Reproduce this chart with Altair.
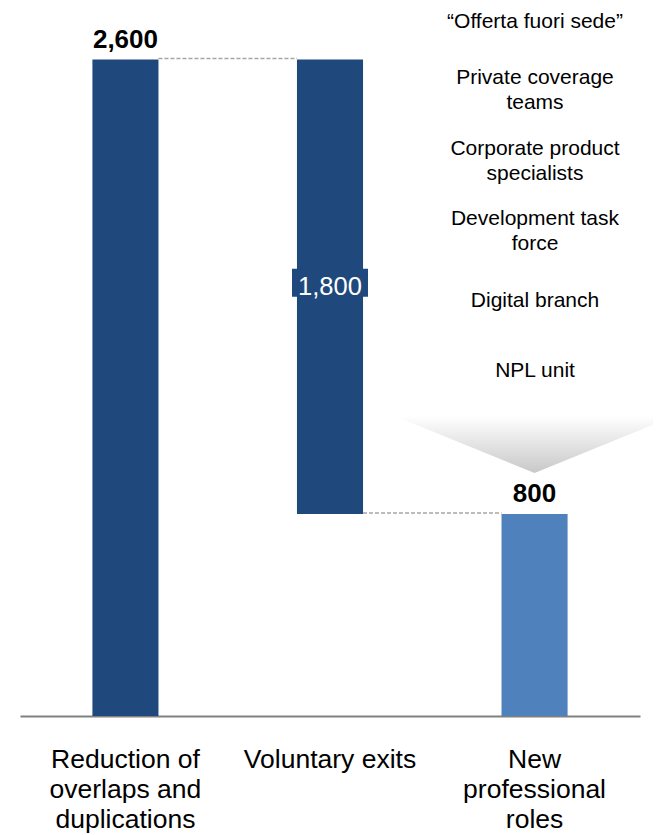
import altair as alt
import pandas as pd

# ---------------- data ----------------
categories = ["Reduction of overlaps and duplications", "Voluntary exits", "New professional roles"]
category_lines = ["Reduction of\noverlaps and\nduplications", "Voluntary exits", "New\nprofessional\nroles"]
kinds = ["total", "delta", "total"]
amounts = [2600, -1800, 800]
bar_colors = ["#1F497D", "#1F497D", "#4F81BD"]

new_roles = [
    "\u201cOfferta fuori sede\u201d",
    "Private coverage\nteams",
    "Corporate product\nspecialists",
    "Development task\nforce",
    "Digital branch",
    "NPL unit",
]

# ---------------- build waterfall table ----------------
rows = []
running = 0
for cat, kind, amt, col in zip(categories, kinds, amounts, bar_colors):
    if kind == "total":
        start, end = 0, amt
        running = amt
    else:
        start, end = running + amt, running
        running = running + amt
    rows.append(dict(cat=cat, kind=kind, start=start, end=end,
                     mid=(start + end) / 2, label=f"{abs(amt):,}", color=col))
bars = pd.DataFrame(rows)

conn = pd.DataFrame([
    dict(frm=categories[0], to=categories[1], level=bars.loc[0, "end"]),
    dict(frm=categories[1], to=categories[2], level=bars.loc[1, "start"]),
])
cat_df = pd.DataFrame(dict(cat=categories, text=category_lines))
tri_df = pd.DataFrame(dict(cat=[categories[2]]))

FONT = "Liberation Sans"
W, H = 620, 686
ymax = 2717

x_enc = alt.X("cat:N", sort=categories,
              scale=alt.Scale(domain=categories, paddingInner=0.677, paddingOuter=0.354),
              axis=alt.Axis(title=None, labels=False, ticks=False, domain=True,
                            domainColor="#808080", domainWidth=2, grid=False))
y_scale = alt.Scale(domain=[0, ymax], nice=False, zero=True)

base = alt.Chart(bars)

bar_layer = base.mark_bar().encode(
    x=x_enc,
    y=alt.Y("start:Q", scale=y_scale, axis=None),
    y2="end:Q",
    color=alt.Color("color:N", scale=None),
)

conn_layer = alt.Chart(conn).mark_rule(
    color="#A6A6A6", strokeDash=[4, 2], strokeWidth=1.5, xOffset=33, x2Offset=-33, yOffset=-1
).encode(
    x=alt.X("frm:N", sort=categories, scale=alt.Scale(domain=categories)),
    x2="to:N",
    y=alt.Y("level:Q", scale=y_scale),
)

total_labels = base.transform_filter(alt.datum.kind == "total").mark_text(
    font=FONT, fontSize=26, fontWeight="bold", color="#000000",
    baseline="alphabetic", dy=-12,
).encode(
    x=alt.X("cat:N", sort=categories),
    y=alt.Y("end:Q", scale=y_scale),
    text="label:N",
)

delta_box = base.transform_filter(alt.datum.kind == "delta").mark_point(
    shape="M-1,-0.368L1,-0.368L1,0.368L-1,0.368Z", size=76 * 76, filled=True,
    fill="#1F497D", opacity=1, strokeWidth=0, yOffset=-4,
).encode(
    x=alt.X("cat:N", sort=categories),
    y=alt.Y("mid:Q", scale=y_scale),
)

delta_label = base.transform_filter(alt.datum.kind == "delta").mark_text(
    font=FONT, fontSize=25.5, color="#FFFFFF", baseline="alphabetic", dy=8,
).encode(
    x=alt.X("cat:N", sort=categories),
    y=alt.Y("mid:Q", scale=y_scale),
    text="label:N",
)

triangle = alt.Chart(tri_df).mark_point(
    shape="M-1,-0.204L1,-0.204L0,0.204Z", size=280 * 280, filled=True, opacity=1,
    strokeWidth=0,
    fill=alt.Gradient(
        gradient="linear",
        stops=[alt.GradientStop(color="#FFFFFF", offset=0),
               alt.GradientStop(color="#C8C8C8", offset=1)],
        x1=0, x2=0, y1=0, y2=1,
    ),
).encode(
    x=alt.X("cat:N", sort=categories),
    y=alt.value(414.5),
)

cat_labels = alt.Chart(cat_df).mark_text(
    font=FONT, fontSize=26.5, color="#000000", baseline="alphabetic",
    lineBreak="\n", lineHeight=30, align="center",
).encode(
    x=alt.X("cat:N", sort=categories),
    y=alt.value(738),
    text="text:N",
)

role_baselines = [-2, 54, 125, 195, 277, 347]
role_layers = []
for txt, yb in zip(new_roles, role_baselines):
    role_layers.append(
        alt.Chart(pd.DataFrame(dict(t=[txt]))).mark_text(
            font=FONT, fontSize=21, color="#000000", baseline="alphabetic",
            lineBreak="\n", lineHeight=25, align="center",
        ).encode(x=alt.value(515), y=alt.value(yb), text="t:N")
    )

chart = alt.layer(
    triangle, bar_layer, conn_layer, delta_box, delta_label, total_labels, cat_labels, *role_layers
).properties(
    width=W, height=H,
    padding={"left": 12, "top": 22, "right": 13, "bottom": 119},
    autosize=alt.AutoSizeParams(type="none"),
).configure(background="#FFFFFF", view=alt.ViewConfig(stroke=None))

chart.save("out.html", embed_options={"renderer": "svg", "actions": False})
